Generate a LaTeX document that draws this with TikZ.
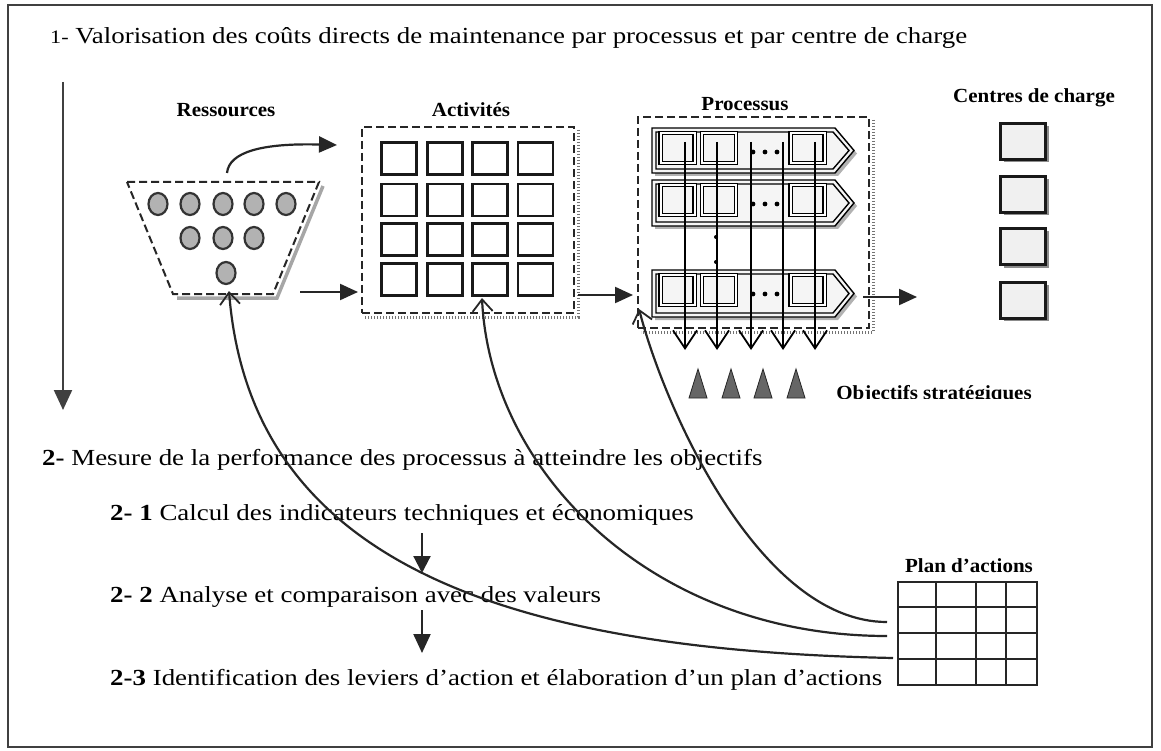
\documentclass[tikz,border=0pt]{standalone}
\usepackage{fontspec}
\setmainfont{Liberation Serif}
\newfontfamily\tms[FakeStretch=1.17]{Liberation Serif}
\newfontfamily\pal[FakeStretch=1.17]{Liberation Serif}
\newfontfamily\lab[FakeStretch=1.05]{Liberation Serif}
\usetikzlibrary{arrows.meta,shapes.geometric,shadows,calc}
\begin{document}
\begin{tikzpicture}[x=1pt,y=-1pt,
  txt/.style={font=\tms\fontsize{23}{26}\selectfont, inner sep=0pt, anchor=west},
  ptxt/.style={font=\pal\fontsize{23}{26}\selectfont, inner sep=0pt, anchor=west},
  lbl/.style={font=\lab\fontsize{20}{22}\selectfont\bfseries, inner sep=0pt},
  arr/.style={line width=2.2pt, draw=black!85, -{Triangle[length=18pt,width=16pt]}},
  fb/.style={line width=2.2pt, draw=black!85, -{Straight Barb[length=12pt,width=20pt,line width=1.8pt]}},
  dbox/.style={draw=black!85, line width=2pt, dash pattern=on 8pt off 4pt, inner sep=0pt},
  asq/.style={draw=black!90, line width=2.8pt, minimum width=35pt, minimum height=32pt, inner sep=0pt},
  res/.style={ellipse, draw=black!80, line width=2.2pt, fill=black!30, minimum width=19pt, minimum height=22pt, inner sep=0pt},
  psq/.style={draw=black, line width=1.3pt, double=white, double distance=2pt, minimum width=34pt, minimum height=30pt, inner sep=0pt},
  csq/.style={draw=black!90, line width=3pt, fill=black!6, minimum width=45pt, minimum height=36pt, inner sep=0pt,
     drop shadow={shadow xshift=3pt, shadow yshift=-3pt, fill=black!45, opacity=1}},
  shd/.style={draw=black!55, line width=3pt, dash pattern=on 1.2pt off 1.8pt}
]
\useasboundingbox (0,0) rectangle (1161,751);
\fill[white] (0,0) rectangle (1161,751);
\draw[line width=2.8pt, black!75] (8,5) rectangle (1152,747);

% title
\node[txt] (title) at (50,38) {{\fontsize{19}{19}\selectfont 1-} Valorisation des coûts directs de maintenance par processus et par centre de charge};

% main vertical arrow
\coordinate (vtop) at (63,82);
\coordinate (vbot) at (63,410);
\draw[arr, draw=black!75, -{Triangle[length=20pt,width=18pt]}] (vtop) -- (vbot);

% labels
\node[lbl] (resL) at (226,110) {Ressources};
\node[lbl] (actL) at (471,110) {Activités};
\node[lbl] (proL) at (745,104) {Processus};
\node[lbl] (cenL) at (1034,98) {Centres de charge};
\node[lbl] (planL) at (969,566) {Plan d’actions};
\begin{scope}
\clip (820,360) rectangle (1060,398);
\node[lbl, anchor=base] (objL) at (934,399) {Objectifs stratégiques};
\end{scope}

% resources trapezoid
\draw[black!35, line width=3.5pt] (323,186) -- (277,298) -- (177,298);
\draw[dbox] (127,182) coordinate (trTL) -- (319,182) coordinate (trTR) -- (273,294) coordinate (trBR) -- (173,294) coordinate (trBL) -- cycle;
\foreach \x [count=\i] in {158,190,223,254,286} \node[res] (ra\i) at (\x,204) {};
\foreach \x [count=\i] in {190,223,254} \node[res] (rb\i) at (\x,238) {};
\node[res] (rc) at (226,273) {};
\coordinate (trTop) at (227,173);
\coordinate (caE) at (337,145);
\draw[arr] (trTop) .. controls (229,152) and (262,143) .. (caE);

% activities
\node[dbox, minimum width=212pt, minimum height=186pt] (act) at (468,220) {};
\draw[shd] ([xshift=3pt,yshift=-4pt]act.north east) -- ([xshift=3pt,yshift=-3pt]act.south east) -- ([xshift=4pt,yshift=-3pt]act.south west);
\foreach \x [count=\i] in {399,445,490,535.5} {
  \foreach \y [count=\j] in {158.5,200,239.5,279.5} {
    \node[asq] (a\i\j) at (\x,\y) {};
  }
}
\coordinate (r2a) at (300,292);
\draw[arr, shorten >=3pt] (r2a) -- (r2a -| act.west);

% processus
\node[dbox, minimum width=231pt, minimum height=211pt] (pro) at (753.5,222.5) {};
\draw[shd] ([xshift=3pt,yshift=-4pt]pro.north east) -- ([xshift=3pt,yshift=-3pt]pro.south east) -- ([xshift=4pt,yshift=-3pt]pro.south west);
\coordinate (a2p) at (578,295);
\draw[arr, shorten >=4pt] (a2p) -- (a2p -| pro.west);

\foreach \ta/\tb [count=\k] in {128/173, 180/226, 270/317} {
  \pgfmathsetmacro\mm{(\ta+\tb)/2}
  \fill[black!30] (655,\ta+3) -- (838,\ta+3) -- (857,\mm+3) -- (838,\tb+3) -- (655,\tb+3) -- cycle;
  \draw[line width=1.4pt, fill=black!4] (652,\ta) -- (835,\ta) -- (854,\mm) -- (835,\tb) -- (652,\tb) -- cycle;
  \draw[line width=1.4pt] (656,\ta+4) -- (833,\ta+4) -- (849,\mm) -- (833,\tb-4) -- (656,\tb-4) -- cycle;
  \node[psq] (pa\k) at (677.5,\ta+20) {};
  \node[psq] (pb\k) at (719,\ta+20) {};
  \node[psq] (pc\k) at (807.5,\ta+20) {};
  \foreach \dd in {753,765,777} \fill (\dd,\ta+24) circle (2.4pt);
}
\fill (716,237) circle (2pt);
\fill (716,262) circle (2pt);
\foreach \x [count=\i] in {685,717,751,783,815} {
  \coordinate (vs\i) at (\x,142);
  \coordinate (ve\i) at (\x,350);
  \draw[line width=1.8pt, -{Straight Barb[length=18pt,width=24pt,line width=1.8pt]}] (vs\i) -- (ve\i);
}
\coordinate (p2s) at (863,297);
\coordinate (p2e) at (917,297);
\draw[arr] (p2s) -- (p2e);

% centres de charge
\foreach \y [count=\i] in {141.5,194.5,246.5,300} \node[csq] (cc\i) at (1023,\y) {};

% objectives triangles
\foreach \x in {698,731,763,796}
  \draw[black!85, line width=0.8pt, fill=black!60] (\x-9,398) -- (\x,369) -- (\x+9,398) -- cycle;

% part 2 texts
\node[txt] (m2) at (42,460) {\textbf{2-} Mesure de la performance des processus à atteindre les objectifs};
\node[ptxt] (m21) at (110,515) {\textbf{2- 1} Calcul des indicateurs techniques et économiques};
\node[ptxt] (m22) at (110,597) {\textbf{2- 2} Analyse et comparaison avec des valeurs};
\node[ptxt] (m23) at (110,680) {\textbf{2-3} Identification des leviers d’action et élaboration d’un plan d’actions};

\coordinate (s1a) at (422,533);
\coordinate (s1b) at (422,573);
\draw[arr, -{Triangle[length=17pt,width=17pt]}] (s1a) -- (s1b);
\coordinate (s2a) at (422,610);
\coordinate (s2b) at (422,653);
\draw[arr, -{Triangle[length=19pt,width=17pt]}] (s2a) -- (s2b);

% plan d'actions table
\node[draw=black!85, line width=1.6pt, minimum width=139pt, minimum height=103pt, inner sep=0pt] (plan) at (967.5,633.5) {};
\foreach \x in {936,976,1006} \draw[line width=1.6pt, black!85] (\x,582) -- (\x,685);
\foreach \y in {607,633,659} \draw[line width=1.6pt, black!85] (898,\y) -- (1037,\y);

% feedback curves
\coordinate (fA) at (887,622);
\coordinate (fB) at (887,636);
\coordinate (fC) at (893,658);
\coordinate (tA) at (639,309);
\coordinate (tB) at (482,298);
\coordinate (tC) at (229,291);
\draw[fb] (fA) .. controls (760,622) and (665,410) .. (tA);
\draw[fb] (fB) .. controls (650,636) and (490,470) .. (tB);
\draw[fb] (fC) .. controls (500,650) and (250,560) .. (tC);
\end{tikzpicture}
\end{document}
